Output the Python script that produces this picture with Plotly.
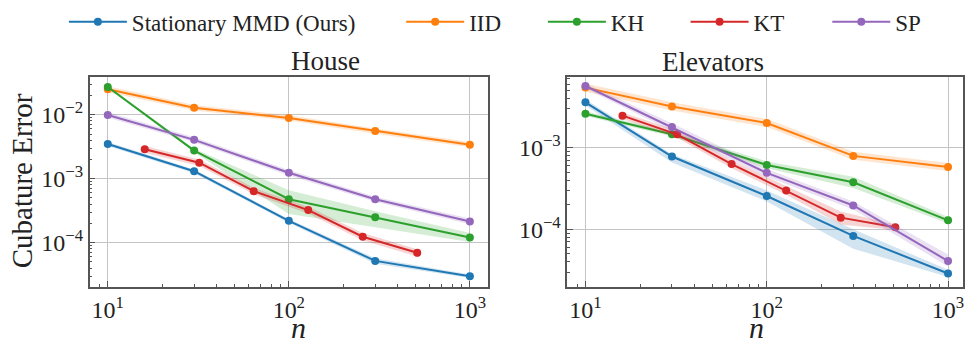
import plotly.graph_objects as go

# ---------------- data ----------------
n_main = [10, 30, 100, 300, 1000]
n_kt = [16, 32, 64, 128, 256, 512]

# House
house_smmd = [3.5e-3, 1.31e-3, 2.2e-4, 5.2e-5, 3.0e-5]
house_smmd_lo = [3.25e-3, 1.22e-3, 2.05e-4, 4.7e-5, 2.8e-5]
house_smmd_hi = [3.75e-3, 1.40e-3, 2.35e-4, 5.7e-5, 3.2e-5]
house_iid = [2.5e-2, 1.29e-2, 8.9e-3, 5.56e-3, 3.4e-3]
house_iid_lo = [2.25e-2, 1.17e-2, 8.1e-3, 5.05e-3, 3.1e-3]
house_iid_hi = [2.78e-2, 1.42e-2, 9.8e-3, 6.1e-3, 3.75e-3]
house_kh = [2.72e-2, 2.75e-3, 4.78e-4, 2.5e-4, 1.21e-4]
house_kh_lo = [2.6e-2, 2.6e-3, 2.8e-4, 1.75e-4, 1.03e-4]
house_kh_hi = [2.85e-2, 2.95e-3, 6.6e-4, 3.1e-4, 1.42e-4]
house_kt = [2.88e-3, 1.78e-3, 6.4e-4, 3.24e-4, 1.24e-4, 6.95e-5]
house_kt_lo = [2.55e-3, 1.58e-3, 5.7e-4, 2.85e-4, 1.08e-4, 6.1e-5]
house_kt_hi = [3.25e-3, 2.0e-3, 7.2e-4, 3.65e-4, 1.42e-4, 7.9e-5]
house_sp = [9.9e-3, 4.05e-3, 1.24e-3, 4.78e-4, 2.15e-4]
house_sp_lo = [9.0e-3, 3.7e-3, 1.12e-3, 4.35e-4, 1.95e-4]
house_sp_hi = [1.09e-2, 4.45e-3, 1.37e-3, 5.25e-4, 2.4e-4]

# Elevators
elev_smmd = [3.6e-3, 7.8e-4, 2.56e-4, 8.3e-5, 2.88e-5]
elev_smmd_lo = [3.3e-3, 6.6e-4, 2.2e-4, 5.8e-5, 2.6e-5]
elev_smmd_hi = [3.9e-3, 8.3e-4, 3.0e-4, 1.0e-4, 3.2e-5]
elev_iid = [5.45e-3, 3.19e-3, 2.01e-3, 7.94e-4, 5.8e-4]
elev_iid_lo = [4.85e-3, 2.85e-3, 1.8e-3, 7.1e-4, 5.2e-4]
elev_iid_hi = [6.1e-3, 3.6e-3, 2.25e-3, 8.9e-4, 6.5e-4]
elev_kh = [2.61e-3, 1.46e-3, 6.14e-4, 3.77e-4, 1.29e-4]
elev_kh_lo = [2.45e-3, 1.37e-3, 5.6e-4, 3.2e-4, 1.18e-4]
elev_kh_hi = [2.8e-3, 1.56e-3, 6.8e-4, 4.4e-4, 1.42e-4]
elev_kt = [2.47e-3, 1.46e-3, 6.3e-4, 2.99e-4, 1.39e-4, 1.06e-4]
elev_kt_lo = [2.25e-3, 1.32e-3, 5.6e-4, 2.65e-4, 1.15e-4, 9.8e-5]
elev_kt_hi = [2.7e-3, 1.62e-3, 7.0e-4, 3.4e-4, 1.65e-4, 1.15e-4]
elev_sp = [5.7e-3, 1.79e-3, 4.92e-4, 1.96e-4, 4.09e-5]
elev_sp_lo = [5.3e-3, 1.6e-3, 4.4e-4, 1.75e-4, 3.5e-5]
elev_sp_hi = [6.1e-3, 2.0e-3, 5.5e-4, 2.2e-4, 4.9e-5]

method_names = ["Stationary MMD (Ours)", "IID", "KH", "KT", "SP"]
method_colors = ["#1f77b4", "#ff7f0e", "#2ca02c", "#d62728", "#9467bd"]
band_colors = ["rgba(31,119,180,0.2)", "rgba(255,127,14,0.2)", "rgba(44,160,44,0.2)",
               "rgba(214,39,40,0.2)", "rgba(148,103,189,0.2)"]

ytick_vals = [1e-4, 1e-3, 1e-2]
ytick_text = ["10<sup>−4</sup>", "10<sup>−3</sup>", "10<sup>−2</sup>"]
xtick_vals = [10, 100, 1000]
xtick_text = ["10<sup>1</sup>", "10<sup>2</sup>", "10<sup>3</sup>"]

FONT = "Liberation Serif"
W, H = 965, 341

panels = [
    ("x", "y", [
        (n_main, house_smmd, house_smmd_lo, house_smmd_hi),
        (n_main, house_iid, house_iid_lo, house_iid_hi),
        (n_main, house_kh, house_kh_lo, house_kh_hi),
        (n_kt, house_kt, house_kt_lo, house_kt_hi),
        (n_main, house_sp, house_sp_lo, house_sp_hi),
    ]),
    ("x2", "y2", [
        (n_main, elev_smmd, elev_smmd_lo, elev_smmd_hi),
        (n_main, elev_iid, elev_iid_lo, elev_iid_hi),
        (n_main, elev_kh, elev_kh_lo, elev_kh_hi),
        (n_kt, elev_kt, elev_kt_lo, elev_kt_hi),
        (n_main, elev_sp, elev_sp_lo, elev_sp_hi),
    ]),
]

fig = go.Figure()
legend_ids = ["legend", "legend2", "legend3", "legend4", "legend5"]
for pi, (xa, ya, series) in enumerate(panels):
    for i, (xs, ys, lo, hi) in enumerate(series):
        fig.add_trace(go.Scatter(
            x=list(xs) + list(xs)[::-1], y=list(hi) + list(lo)[::-1],
            fill="toself", fillcolor=band_colors[i], line=dict(width=0),
            mode="lines", hoverinfo="skip", showlegend=False, xaxis=xa, yaxis=ya))
        fig.add_trace(go.Scatter(
            x=xs, y=ys, mode="lines+markers", name=method_names[i],
            line=dict(color=method_colors[i], width=2),
            marker=dict(color=method_colors[i], size=8),
            showlegend=(pi == 0), legend=legend_ids[i], xaxis=xa, yaxis=ya))

def px_x(p):
    return p / W

def px_y(p):
    return 1 - p / H

def make_axis(**kw):
    d = dict(
        type="log", showline=True, mirror=True, linecolor="#555555", linewidth=1.5,
        showgrid=True, gridcolor="#c4c4c4", gridwidth=1, zeroline=False,
        ticks="inside", ticklen=6, tickcolor="#555555", tickwidth=1,
        tickfont=dict(family=FONT, size=24, color="#222222"),
        ticklabeloverflow="allow",
        minor=dict(ticks="inside", ticklen=3, tickcolor="#555555", dtick="D1", showgrid=False),
    )
    d.update(kw)
    return d

ydom = [px_y(286), px_y(71)]
fig.update_layout(
    width=W, height=H, margin=dict(l=0, r=0, t=0, b=0),
    font=dict(family=FONT, size=22, color="#222222"),
    plot_bgcolor="white", paper_bgcolor="white",
    xaxis=make_axis(domain=[px_x(89.85), px_x(489)], range=[0.9, 3.1],
                    tickvals=xtick_vals, ticktext=xtick_text, anchor="y"),
    yaxis=make_axis(domain=ydom, range=[-4.694, -1.403],
                    tickvals=ytick_vals, ticktext=ytick_text, anchor="x"),
    xaxis2=make_axis(domain=[px_x(568.5), 1.0], range=[0.9, 3.0825],
                     tickvals=xtick_vals, ticktext=xtick_text, anchor="y2"),
    yaxis2=make_axis(domain=ydom, range=[-4.708, -2.128],
                     tickvals=ytick_vals, ticktext=ytick_text, anchor="x2"),
)

leg_x = [64, 402, 544, 687, 829]
for lid, lx in zip(legend_ids, leg_x):
    fig.update_layout({lid: dict(
        x=px_x(lx), y=px_y(15), xanchor="left", yanchor="middle",
        orientation="h", bgcolor="rgba(0,0,0,0)", itemwidth=58,
        font=dict(family=FONT, size=23, color="#222222"))})

ann_font = dict(family=FONT, color="#222222")
fig.add_annotation(x=px_x(289.5), y=px_y(55), xref="paper", yref="paper", text="House",
                   showarrow=False, font=dict(ann_font, size=27), yanchor="middle")
fig.add_annotation(x=px_x(768), y=px_y(56), xref="paper", yref="paper", text="Elevators",
                   showarrow=False, font=dict(ann_font, size=27), yanchor="middle")
fig.add_annotation(x=px_x(290), y=-5 / H, xref="paper", yref="paper", text="<i>n</i>",
                   showarrow=False, font=dict(ann_font, size=30), yanchor="bottom")
fig.add_annotation(x=px_x(768), y=-5 / H, xref="paper", yref="paper", text="<i>n</i>",
                   showarrow=False, font=dict(ann_font, size=30), yanchor="bottom")
fig.add_annotation(x=px_x(21.5), y=px_y(177.5), xref="paper", yref="paper", text="Cubature Error",
                   showarrow=False, textangle=-90, font=dict(ann_font, size=29),
                   xanchor="center", yanchor="middle")

fig.write_html("out.html")
